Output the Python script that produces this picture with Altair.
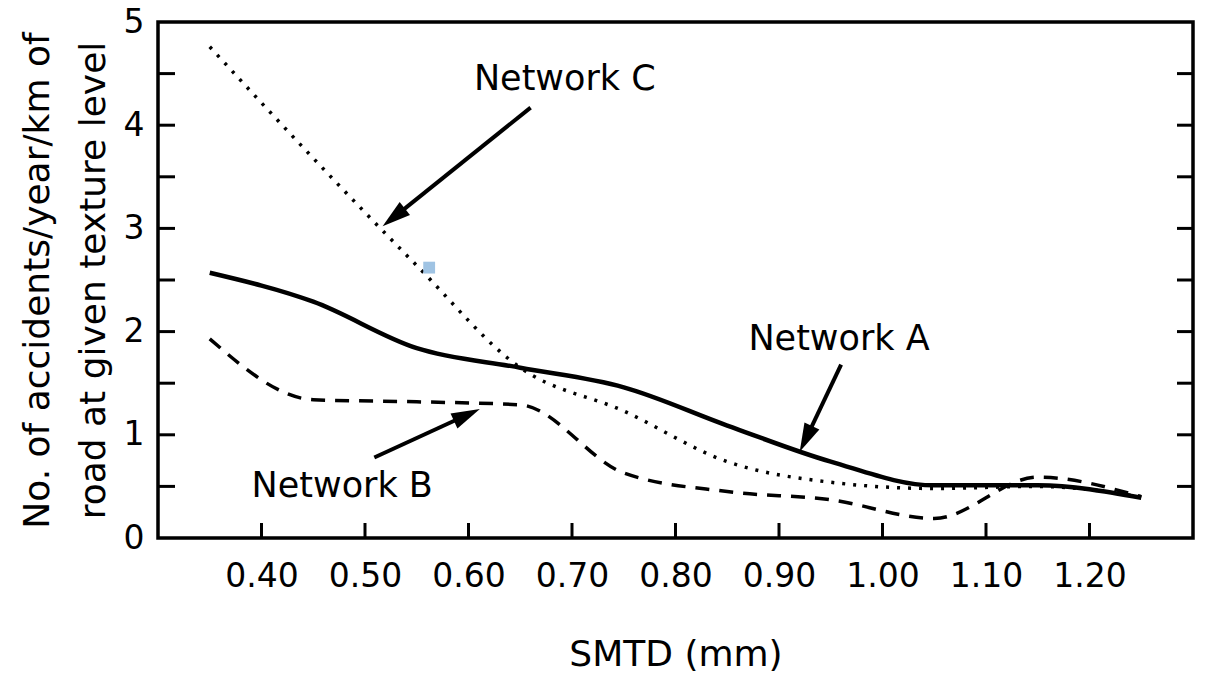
import math
import altair as alt
import pandas as pd

# ---- data ----
smtd = [0.35, 0.45, 0.55, 0.65, 0.75, 0.85, 0.95, 1.05, 1.15, 1.25]
network_a = [2.57, 2.29, 1.84, 1.65, 1.46, 1.09, 0.74, 0.51, 0.51, 0.39]
network_b = [1.93, 1.34, 1.32, 1.29, 0.63, 0.45, 0.37, 0.19, 0.59, 0.40]
network_c = [4.76, 3.68, 2.64, 1.65, 1.23, 0.74, 0.54, 0.48, 0.50, 0.40]

x_tick_values = [0.40, 0.50, 0.60, 0.70, 0.80, 0.90, 1.00, 1.10, 1.20]
y_label_values = [0, 1, 2, 3, 4, 5]
y_minor_ticks = [0.5, 1.0, 1.5, 2.0, 2.5, 3.0, 3.5, 4.0, 4.5]

label_names = ["Network C", "Network A", "Network B"]
label_x = [0.693, 0.958, 0.478]
label_y = [4.45, 1.93, 0.50]

arrow_tail_x = [0.660, 0.960, 0.509]
arrow_tail_y = [4.17, 1.68, 0.78]
arrow_tip_x = [0.517, 0.920, 0.611]
arrow_tip_y = [3.02, 0.835, 1.25]

speck_x = [0.562]
speck_y = [2.62]

W, H = 1035, 516
X_DOM = [0.30, 1.30]
Y_DOM = [0, 5]
FONT = "DejaVu Sans"

px_per_x = W / (X_DOM[1] - X_DOM[0])
px_per_y = H / (Y_DOM[1] - Y_DOM[0])

lines_df = pd.DataFrame({"smtd": smtd, "A": network_a, "B": network_b, "C": network_c})

# arrows: compute head angle and shortened shaft from the data
rows = []
for tx, ty, hx, hy in zip(arrow_tail_x, arrow_tail_y, arrow_tip_x, arrow_tip_y):
    dxp = (hx - tx) * px_per_x
    dyp = -(hy - ty) * px_per_y
    length = math.hypot(dxp, dyp)
    ang = math.degrees(math.atan2(dxp, -dyp)) % 360
    back = 18.0  # px shaft stops before tip
    ex = hx - (dxp / length) * back / px_per_x
    ey = hy + (dyp / length) * back / px_per_y
    rows.append({"tx": tx, "ty": ty, "ex": ex, "ey": ey, "hx": hx, "hy": hy, "angle": ang})
arrows_df = pd.DataFrame(rows)

labels_df = pd.DataFrame({"name": label_names, "x": label_x, "y": label_y})

xs = alt.Scale(domain=X_DOM, nice=False, zero=False)
ys = alt.Scale(domain=Y_DOM, nice=False, zero=False)

x_axis = alt.Axis(
    values=x_tick_values, format=".2f", ticks=False, domain=False, grid=False,
    labelFontSize=33, labelPadding=22, labelFont=FONT, labelColor="black",
    title="SMTD (mm)", titleFontSize=36, titleFont=FONT, titleFontWeight="normal",
    titleColor="black", titleY=127, titleBaseline="alphabetic",
)
y_axis = alt.Axis(
    values=y_label_values, format="d", ticks=False, domain=False, grid=False,
    labelFontSize=33, labelPadding=14, labelFont=FONT, labelColor="black",
    title=["No. of accidents/year/km of", "road at given texture level"],
    titleFontSize=36, titleFont=FONT, titleFontWeight="normal", titleColor="black",
    titleLineHeight=56, titleX=-138, titleBaseline="top",
)

base = alt.Chart(lines_df)

line_a = base.mark_line(color="black", strokeWidth=4.5, interpolate="monotone").encode(
    x=alt.X("smtd:Q", scale=xs, axis=x_axis),
    y=alt.Y("A:Q", scale=ys, axis=y_axis),
)
line_b = base.mark_line(color="black", strokeWidth=3.5, strokeDash=[14, 10], interpolate="monotone").encode(
    x=alt.X("smtd:Q", scale=xs), y=alt.Y("B:Q", scale=ys)
)
line_c = base.mark_line(color="black", strokeWidth=3.5, strokeDash=[3, 8], interpolate="monotone").encode(
    x=alt.X("smtd:Q", scale=xs), y=alt.Y("C:Q", scale=ys)
)

xt_df = pd.DataFrame({"v": x_tick_values})
x_ticks = alt.Chart(xt_df).mark_rule(color="black", strokeWidth=3).encode(
    x=alt.X("v:Q", scale=xs), y=alt.value(H), y2=alt.value(H - 15)
)
yt_df = pd.DataFrame({"v": y_minor_ticks})
y_ticks_l = alt.Chart(yt_df).mark_rule(color="black", strokeWidth=3).encode(
    y=alt.Y("v:Q", scale=ys), x=alt.value(0), x2=alt.value(17)
)
y_ticks_r = alt.Chart(yt_df).mark_rule(color="black", strokeWidth=3).encode(
    y=alt.Y("v:Q", scale=ys), x=alt.value(W), x2=alt.value(W - 16)
)

shafts = alt.Chart(arrows_df).mark_rule(color="black", strokeWidth=4).encode(
    x=alt.X("tx:Q", scale=xs), y=alt.Y("ty:Q", scale=ys), x2="ex:Q", y2="ey:Q"
)
heads = alt.Chart(arrows_df).mark_point(
    shape="M0,0L0.55,1.9L-0.55,1.9Z", filled=True, color="black", size=900, opacity=1
).encode(
    x=alt.X("hx:Q", scale=xs), y=alt.Y("hy:Q", scale=ys), angle=alt.Angle("angle:Q", scale=None)
)

texts = alt.Chart(labels_df).mark_text(
    font=FONT, fontSize=35, color="black", align="center", baseline="middle"
).encode(x=alt.X("x:Q", scale=xs), y=alt.Y("y:Q", scale=ys), text="name:N")

speck = alt.Chart(pd.DataFrame({"x": speck_x, "y": speck_y})).mark_square(
    color="#9fc3e3", size=140, opacity=1
).encode(x=alt.X("x:Q", scale=xs), y=alt.Y("y:Q", scale=ys))

chart = alt.layer(
    line_c, line_b, line_a, x_ticks, y_ticks_l, y_ticks_r, shafts, heads, texts, speck
).properties(
    width=W, height=H,
    autosize=alt.AutoSizeParams(type="none"),
    padding={"left": 158, "top": 22, "right": 12, "bottom": 137},
    background="white",
).configure_view(stroke="black", strokeWidth=3.5)

chart.save("out.html", embed_options={"renderer": "svg", "actions": False})
